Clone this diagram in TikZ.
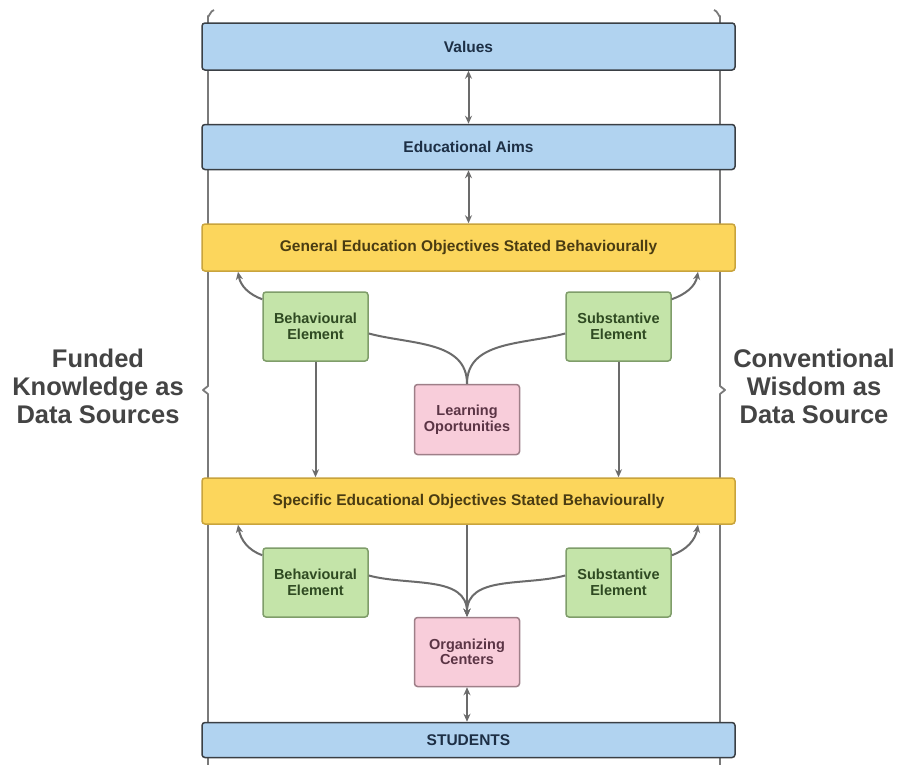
\documentclass[tikz,border=0pt]{standalone}
\usepackage{fontspec}
\setmainfont{Liberation Sans}
\usetikzlibrary{arrows.meta,calc}

\definecolor{bluefill}{HTML}{B1D3F0}
\definecolor{bluetext}{HTML}{1D2F45}
\definecolor{yellowfill}{HTML}{FCD65C}
\definecolor{yellowline}{HTML}{C9A43C}
\definecolor{yellowtext}{HTML}{4A3C12}
\definecolor{greenfill}{HTML}{C4E4A9}
\definecolor{greenline}{HTML}{7F9D6A}
\definecolor{greentext}{HTML}{2F4A22}
\definecolor{pinkfill}{HTML}{F8CDDA}
\definecolor{pinkline}{HTML}{9E7F88}
\definecolor{pinktext}{HTML}{5B3445}
\definecolor{boxline}{HTML}{3A3F44}
\definecolor{linkgray}{HTML}{6B6B6B}
\definecolor{bracegray}{HTML}{7A7A7A}
\definecolor{sidetext}{HTML}{444444}

\tikzset{
  box/.style={rounded corners=3pt, line width=1.5pt, inner sep=0pt,
    font=\fontsize{14.5}{15.5}\selectfont\bfseries, align=center},
  wide/.style={box, minimum width=533pt, font=\fontsize{15.5}{17}\selectfont\bfseries},
  bluebox/.style={wide, draw=boxline, fill=bluefill, text=bluetext},
  yellowbox/.style={wide, draw=yellowline, fill=yellowfill, text=yellowtext, minimum height=46pt},
  greenbox/.style={box, draw=greenline, fill=greenfill, text=greentext,
    minimum width=105pt, minimum height=69pt},
  pinkbox/.style={box, draw=pinkline, fill=pinkfill, text=pinktext,
    minimum width=105pt, minimum height=70pt},
  link/.style={draw=linkgray, line width=2pt},
  arr/.style={link, -{Stealth[length=8pt,width=7pt]}},
  darr/.style={link, {Stealth[length=8pt,width=7pt]}-{Stealth[length=8pt,width=7pt]}},
  bracket/.style={draw=bracegray, line width=1.8pt, line join=round},
  sidelabel/.style={text=sidetext, align=center,
    font=\fontsize{25.5}{28}\selectfont\bfseries}
}

\begin{document}
\begin{tikzpicture}[x=1pt, y=-1pt]
  \useasboundingbox[fill=white] (0,0) rectangle (901,764);

  % side braces behind the boxes
  \draw[bracket] (214,10) to[out=180,in=-90] (208,16) -- (208,386)
    -- (203,390) -- (208,394) -- (208,770);
  \draw[bracket] (714,10) to[out=0,in=-90] (720,16) -- (720,386)
    -- (725,390) -- (720,394) -- (720,770);

  % side labels
  \node[sidelabel] (fk) at (98,386) {Funded\\Knowledge as\\Data Sources};
  \node[sidelabel] (cw) at (814,386) {Conventional\\Wisdom as\\Data Source};

  % main column
  \node[bluebox, minimum height=47pt] (v) at (468.5,46.5) {Values};
  \node[bluebox, minimum height=45pt] (a) at (468.5,147) {Educational Aims};
  \node[yellowbox, minimum height=47pt] (g) at (468.5,247.5)
    {General Education Objectives Stated Behaviourally};

  \node[greenbox] (b1) at (315.5,326.5) {Behavioural\\Element};
  \node[greenbox] (s1) at (618.5,326.5) {Substantive\\Element};
  \node[pinkbox] (l) at (467,419.5) {Learning\\Oportunities};

  \node[yellowbox] (sp) at (468.5,501)
    {Specific Educational Objectives Stated Behaviourally};

  \node[greenbox] (b2) at (315.5,582.5) {Behavioural\\Element};
  \node[greenbox] (s2) at (618.5,582.5) {Substantive\\Element};
  \node[pinkbox, minimum height=69pt] (o) at (467,652) {Organizing\\Centers};

  \node[bluebox, minimum height=35pt] (st) at (468.5,740) {STUDENTS};

  % top chain
  \draw[darr] (v.south) -- (a.north);
  \draw[darr] (a.south) -- (g.north);

  % general objectives and their elements
  \coordinate (gl) at (238,0);
  \coordinate (gr) at (698,0);
  \draw[arr] ([yshift=-8pt]b1.north west) to[out=160,in=-80] (g.south -| gl);
  \draw[arr] ([yshift=-8pt]s1.north east) to[out=20,in=-100] (g.south -| gr);
  \draw[link] ([yshift=-7pt]b1.east) to[out=-15,in=90] (l.north);
  \draw[link] ([yshift=-7pt]s1.west) to[out=195,in=90] (l.north);
  \draw[arr] (b1.south) -- (b1.south |- sp.north);
  \draw[arr] (s1.south) -- (s1.south |- sp.north);

  % specific objectives and their elements
  \draw[arr] ([yshift=-8pt]b2.north west) to[out=160,in=-80] (sp.south -| gl);
  \draw[arr] ([yshift=-8pt]s2.north east) to[out=20,in=-100] (sp.south -| gr);
  \draw[arr] (sp.south -| o.north) -- (o.north);
  \draw[arr] ([yshift=7pt]b2.east) to[out=-15,in=90] (o.north);
  \draw[arr] ([yshift=7pt]s2.west) to[out=195,in=90] (o.north);

  % organizing centers and students
  \draw[darr] (o.south) -- (o.south |- st.north);
\end{tikzpicture}
\end{document}
